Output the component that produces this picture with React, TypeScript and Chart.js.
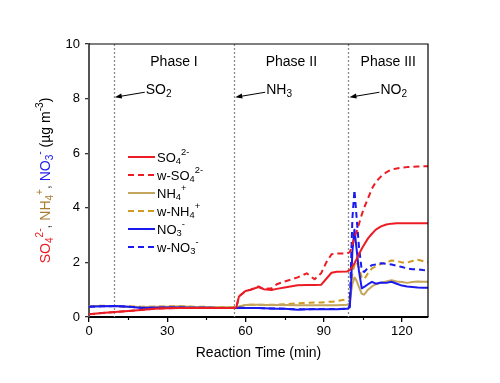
import React, { useEffect, useRef } from 'react';
import { Chart, registerables } from 'chart.js';

Chart.register(...registerables);

// ---------- data ----------
const times = [0, 5, 10, 15, 20, 25, 30, 35, 40, 45, 50, 55, 56.5, 57.5, 60, 62, 65, 67, 70, 72, 75, 80, 83.5, 86.5, 89, 91, 93, 95, 99, 100, 100.5, 101, 101.8, 102.5, 103.5, 104.6, 105.5, 107, 108.5, 110, 112, 114, 116, 118, 120, 122, 124, 126, 128, 130];

const so4 = [0.10, 0.15, 0.18, 0.22, 0.26, 0.30, 0.32, 0.33, 0.33, 0.33, 0.33, 0.33, 0.35, 0.75, 0.95, 1.00, 1.10, 1.02, 0.99, 1.03, 1.08, 1.16, 1.17, 1.17, 1.18, 1.40, 1.62, 1.66, 1.67, 1.72, 1.78, 1.85, 1.97, 2.10, 2.30, 2.50, 2.65, 2.88, 3.05, 3.20, 3.32, 3.39, 3.42, 3.43, 3.43, 3.43, 3.43, 3.43, 3.43, 3.43];

const wSo4 = [0.10, 0.15, 0.18, 0.22, 0.26, 0.30, 0.32, 0.33, 0.33, 0.33, 0.33, 0.33, 0.35, 0.75, 0.95, 1.00, 1.12, 1.02, 1.05, 1.20, 1.30, 1.45, 1.60, 1.38, 1.60, 2.00, 2.30, 2.33, 2.33, 2.38, 2.50, 2.65, 2.90, 3.10, 3.40, 3.75, 4.00, 4.35, 4.70, 4.95, 5.15, 5.30, 5.40, 5.44, 5.47, 5.49, 5.50, 5.51, 5.52, 5.52];

const nh4 = [0.40, 0.40, 0.40, 0.38, 0.37, 0.38, 0.38, 0.39, 0.37, 0.37, 0.36, 0.36, 0.36, 0.38, 0.44, 0.45, 0.45, 0.44, 0.44, 0.44, 0.44, 0.43, 0.43, 0.43, 0.43, 0.43, 0.43, 0.43, 0.45, 0.50, 0.90, 1.20, 1.45, 1.35, 1.10, 0.85, 0.82, 1.00, 1.12, 1.20, 1.25, 1.30, 1.35, 1.30, 1.28, 1.25, 1.28, 1.30, 1.29, 1.29];

const wNh4 = [0.40, 0.41, 0.40, 0.39, 0.38, 0.38, 0.39, 0.39, 0.38, 0.37, 0.37, 0.36, 0.36, 0.38, 0.44, 0.45, 0.45, 0.45, 0.45, 0.45, 0.47, 0.50, 0.52, 0.53, 0.53, 0.55, 0.56, 0.58, 0.65, 0.70, 1.20, 1.60, 1.90, 2.03, 1.80, 1.45, 1.38, 1.60, 1.78, 1.85, 1.95, 2.00, 2.07, 2.05, 2.00, 1.99, 2.05, 2.10, 2.05, 2.00];

const no3 = [0.38, 0.39, 0.40, 0.38, 0.33, 0.34, 0.35, 0.35, 0.34, 0.34, 0.33, 0.33, 0.33, 0.34, 0.33, 0.33, 0.33, 0.32, 0.31, 0.30, 0.30, 0.27, 0.28, 0.28, 0.28, 0.28, 0.28, 0.28, 0.30, 0.35, 1.20, 2.40, 3.20, 2.60, 1.70, 1.05, 1.10, 1.20, 1.29, 1.22, 1.26, 1.25, 1.29, 1.22, 1.15, 1.12, 1.10, 1.08, 1.07, 1.07];

const wNo3 = [0.38, 0.39, 0.40, 0.38, 0.34, 0.34, 0.35, 0.35, 0.34, 0.34, 0.33, 0.33, 0.33, 0.34, 0.33, 0.33, 0.33, 0.32, 0.31, 0.31, 0.30, 0.28, 0.28, 0.29, 0.29, 0.29, 0.29, 0.29, 0.31, 0.40, 2.00, 3.60, 4.65, 3.80, 2.60, 1.70, 1.65, 1.80, 1.90, 1.92, 1.97, 1.95, 1.92, 1.88, 1.83, 1.78, 1.75, 1.75, 1.72, 1.70];

const xTickValues = [0, 30, 60, 90, 120];
const xMinorTickValues = [15, 45, 75, 105];
const yTickValues = [0, 2, 4, 6, 8, 10];

const phaseBounds = [9.5, 55.7, 99.5];
const phaseLabels = ['Phase I', 'Phase II', 'Phase III'];
const gasMain = ['SO', 'NH', 'NO'];
const gasSub = ['2', '3', '2'];

// ---------- styles ----------
const RED = '#ec1c24';
const BLUE = '#1a1aee';
const GOLD_SOLID = '#c4a55e';
const GOLD_DASH = '#d09a22';
const TITLE_GOLD = '#a67c2e';
const FONT = '"Liberation Sans", Arial, Helvetica, sans-serif';
const DASH = [6, 4];

type Seg = { t: string; k?: 'sub' | 'sup'; c?: string };

function drawRich(ctx: CanvasRenderingContext2D, segs: Seg[], x: number, y: number, size: number, align: 'left' | 'center' = 'left') {
  const w: number[] = segs.map((s) => {
    ctx.font = `${s.k ? size * 0.72 : size}px ${FONT}`;
    return ctx.measureText(s.t).width;
  });
  const total = w.reduce((a, b) => a + b, 0);
  let cx = align === 'center' ? x - total / 2 : x;
  ctx.textAlign = 'left';
  ctx.textBaseline = 'middle';
  for (let i = 0; i < segs.length; i++) {
    const s = segs[i];
    ctx.font = `${s.k ? size * 0.72 : size}px ${FONT}`;
    ctx.fillStyle = s.c || '#000';
    const dy = s.k === 'sub' ? size * 0.3 : s.k === 'sup' ? -size * 0.4 : 0;
    ctx.fillText(s.t, cx, y + dy);
    cx += w[i];
  }
}

const legendItems: { segs: Seg[]; color: string; dash: number[] }[] = [
  { segs: [{ t: 'SO' }, { t: '4', k: 'sub' }, { t: '2-', k: 'sup' }], color: RED, dash: [] },
  { segs: [{ t: 'w-SO' }, { t: '4', k: 'sub' }, { t: '2-', k: 'sup' }], color: RED, dash: DASH },
  { segs: [{ t: 'NH' }, { t: '4', k: 'sub' }, { t: '+', k: 'sup' }], color: GOLD_SOLID, dash: [] },
  { segs: [{ t: 'w-NH' }, { t: '4', k: 'sub' }, { t: '+', k: 'sup' }], color: GOLD_DASH, dash: DASH },
  { segs: [{ t: 'NO' }, { t: '3', k: 'sub' }, { t: '-', k: 'sup' }], color: BLUE, dash: [] },
  { segs: [{ t: 'w-NO' }, { t: '3', k: 'sub' }, { t: '-', k: 'sup' }], color: BLUE, dash: DASH },
];

const yTitle: Seg[] = [
  { t: 'SO', c: RED }, { t: '4', k: 'sub', c: RED }, { t: '2-', k: 'sup', c: RED },
  { t: ', ', c: '#444' },
  { t: 'NH', c: TITLE_GOLD }, { t: '4', k: 'sub', c: TITLE_GOLD }, { t: '+', k: 'sup', c: TITLE_GOLD },
  { t: ', ', c: '#444' },
  { t: 'NO', c: BLUE }, { t: '3', k: 'sub', c: BLUE }, { t: '-', k: 'sup', c: BLUE },
  { t: ' (\u00b5g m' }, { t: '-3', k: 'sup' }, { t: ')' },
];

const decorPlugin = {
  id: 'decor',
  beforeDatasetsDraw(chart: any) {
    const { ctx, chartArea, scales } = chart;
    ctx.save();
    ctx.strokeStyle = '#8a8a8a';
    ctx.lineWidth = 1.3;
    ctx.setLineDash([2, 2]);
    phaseBounds.forEach((b) => {
      const x = Math.round(scales.x.getPixelForValue(b)) + 0.5;
      ctx.beginPath();
      ctx.moveTo(x, chartArea.top);
      ctx.lineTo(x, chartArea.bottom);
      ctx.stroke();
    });
    ctx.restore();
  },
  afterDraw(chart: any) {
    const { ctx, chartArea, scales } = chart;
    const xs = scales.x;
    const ys = scales.y;
    ctx.save();
    // frame top/right
    ctx.strokeStyle = '#000';
    ctx.lineWidth = 1.2;
    ctx.beginPath();
    ctx.moveTo(chartArea.left, chartArea.top);
    ctx.lineTo(chartArea.right, chartArea.top);
    ctx.lineTo(chartArea.right, chartArea.bottom);
    ctx.stroke();
    // minor x ticks
    ctx.lineWidth = 1.2;
    xMinorTickValues.forEach((v) => {
      const x = Math.round(xs.getPixelForValue(v)) + 0.5;
      ctx.beginPath();
      ctx.moveTo(x, chartArea.bottom);
      ctx.lineTo(x, chartArea.bottom + 3);
      ctx.stroke();
    });

    // phase labels
    const bounds = [...phaseBounds, xs.max];
    phaseLabels.forEach((lab, i) => {
      const cx = xs.getPixelForValue((bounds[i] + bounds[i + 1]) / 2);
      ctx.font = `14px ${FONT}`;
      ctx.fillStyle = '#000';
      ctx.textAlign = 'center';
      ctx.textBaseline = 'middle';
      ctx.fillText(lab, cx, ys.getPixelForValue(9.34));
    });

    // gas arrows
    phaseBounds.forEach((b, i) => {
      const tipX = xs.getPixelForValue(b) + 1;
      const tipY = ys.getPixelForValue(8.05);
      const tailX = tipX + 30;
      const tailY = tipY - 5;
      ctx.strokeStyle = '#000';
      ctx.fillStyle = '#000';
      ctx.lineWidth = 1;
      ctx.setLineDash([]);
      ctx.beginPath();
      ctx.moveTo(tailX, tailY);
      ctx.lineTo(tipX + 5, tipY - 0.8);
      ctx.stroke();
      const ang = Math.atan2(tipY - tailY, tipX - tailX);
      ctx.beginPath();
      ctx.moveTo(tipX, tipY);
      ctx.lineTo(tipX - 7 * Math.cos(ang) + 2.5 * Math.sin(ang), tipY - 7 * Math.sin(ang) - 2.5 * Math.cos(ang));
      ctx.lineTo(tipX - 7 * Math.cos(ang) - 2.5 * Math.sin(ang), tipY - 7 * Math.sin(ang) + 2.5 * Math.cos(ang));
      ctx.closePath();
      ctx.fill();
      drawRich(ctx, [{ t: gasMain[i] }, { t: gasSub[i], k: 'sub' }], tailX + 1, tailY - 2, 14, 'left');
    });

    // legend
    const lx0 = chartArea.left + 39;
    const lx1 = lx0 + 27;
    const ly0 = chartArea.top + 113;
    legendItems.forEach((it, i) => {
      const y = ly0 + i * 18;
      ctx.strokeStyle = it.color;
      ctx.lineWidth = 2;
      ctx.setLineDash(it.dash);
      ctx.beginPath();
      ctx.moveTo(lx0, y);
      ctx.lineTo(lx1, y);
      ctx.stroke();
      ctx.setLineDash([]);
      drawRich(ctx, it.segs, lx1 + 2, y + 1, 13, 'left');
    });

    // axis titles
    ctx.font = `14px ${FONT}`;
    ctx.fillStyle = '#000';
    ctx.textAlign = 'center';
    ctx.textBaseline = 'middle';
    ctx.fillText('Reaction Time (min)', (chartArea.left + chartArea.right) / 2, 353);

    ctx.translate(46, (chartArea.top + chartArea.bottom) / 2);
    ctx.rotate(-Math.PI / 2);
    drawRich(ctx, yTitle, 0, 0, 14, 'center');
    ctx.restore();
  },
};

export default function App() {
  const ref = useRef<HTMLCanvasElement | null>(null);
  useEffect(() => {
    if (!ref.current) return;
    const mk = (vals: number[]) => times.map((t, i) => ({ x: t, y: vals[i] }));
    const chart = new Chart(ref.current, {
      type: 'line',
      data: {
        datasets: [
          { label: 'SO4', data: mk(so4), borderColor: RED, borderWidth: 2, pointRadius: 0, order: 0 },
          { label: 'w-SO4', data: mk(wSo4), borderColor: RED, borderWidth: 2, borderDash: DASH, pointRadius: 0, order: 1 },
          { label: 'NH4', data: mk(nh4), borderColor: GOLD_SOLID, borderWidth: 2, pointRadius: 0, order: 4 },
          { label: 'w-NH4', data: mk(wNh4), borderColor: GOLD_DASH, borderWidth: 2, borderDash: DASH, pointRadius: 0, order: 5 },
          { label: 'NO3', data: mk(no3), borderColor: BLUE, borderWidth: 2, pointRadius: 0, order: 2 },
          { label: 'w-NO3', data: mk(wNo3), borderColor: BLUE, borderWidth: 2, borderDash: DASH, pointRadius: 0, order: 3 },
        ],
      },
      options: {
        animation: false,
        responsive: false,
        devicePixelRatio: 1,
        layout: { padding: { left: 0, right: 72, top: 44, bottom: 0 } },
        plugins: { legend: { display: false }, tooltip: { enabled: false } },
        elements: { line: { tension: 0, borderJoinStyle: 'round' } },
        scales: {
          x: {
            type: 'linear',
            min: 0,
            max: 130,
            afterFit: (s: any) => { s.height = 66; },
            afterBuildTicks: (s: any) => { s.ticks = xTickValues.map((v) => ({ value: v })); },
            ticks: { font: { size: 13, family: FONT }, color: '#000', padding: 2, maxRotation: 0 },
            grid: { drawOnChartArea: false, drawTicks: true, tickLength: 5, color: '#000', lineWidth: 1.3 },
            border: { display: true, color: '#000', width: 2 },
          },
          y: {
            type: 'linear',
            min: 0,
            max: 10,
            afterFit: (s: any) => { s.width = 89; },
            afterBuildTicks: (s: any) => { s.ticks = yTickValues.map((v) => ({ value: v })); },
            ticks: { font: { size: 13, family: FONT }, color: '#000', padding: 5 },
            grid: { drawOnChartArea: false, drawTicks: true, tickLength: 4, color: '#333', lineWidth: 1.3 },
            border: { display: true, color: '#555', width: 2 },
          },
        },
      },
      plugins: [decorPlugin],
    } as any);
    return () => chart.destroy();
  }, []);
  return (
    <div style={{ position: 'fixed', left: 0, top: 0, width: 500, height: 383, background: '#fff' }}>
      <canvas ref={ref} width={500} height={383} style={{ display: 'block', width: 500, height: 383 }} />
    </div>
  );
}
